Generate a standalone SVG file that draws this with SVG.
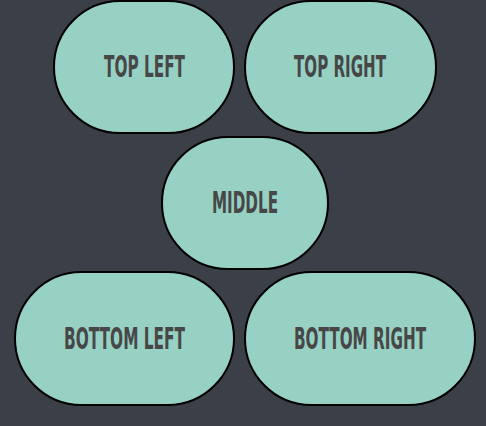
<svg xmlns="http://www.w3.org/2000/svg" width="486" height="426" viewBox="0 0 486 426">
<style>
.bg{fill:#3b3f47}
.n{fill:#96d1c4;stroke:#000;stroke-width:2}
.t{font-family:"DejaVu Sans Condensed","DejaVu Sans","Liberation Sans",sans-serif;font-weight:bold;font-size:31px;fill:#474747;text-anchor:middle}
</style>
<rect class="bg" x="0" y="0" width="486" height="426"/>
<g id="connectors"></g>
<g id="top-left">
<rect class="n" x="54" y="1" width="180" height="132" rx="66" ry="66"/>
<text class="t" transform="translate(144.5,77) scale(0.55,1)" x="0" y="0" textLength="147.3" lengthAdjust="spacingAndGlyphs">TOP LEFT</text>
</g>
<g id="top-right">
<rect class="n" x="245" y="1" width="191" height="132" rx="66" ry="66"/>
<text class="t" transform="translate(340,77) scale(0.55,1)" x="0" y="0" textLength="167.3" lengthAdjust="spacingAndGlyphs">TOP RIGHT</text>
</g>
<g id="middle">
<rect class="n" x="162" y="137" width="166" height="132" rx="66" ry="66"/>
<text class="t" transform="translate(245,213) scale(0.55,1)" x="0" y="0" textLength="120" lengthAdjust="spacingAndGlyphs">MIDDLE</text>
</g>
<g id="bottom-left">
<rect class="n" x="15" y="272" width="219" height="133" rx="66.5" ry="66.5"/>
<text class="t" transform="translate(124.5,349) scale(0.55,1)" x="0" y="0" textLength="220" lengthAdjust="spacingAndGlyphs">BOTTOM LEFT</text>
</g>
<g id="bottom-right">
<rect class="n" x="245" y="272" width="230" height="133" rx="66.5" ry="66.5"/>
<text class="t" transform="translate(360,349) scale(0.55,1)" x="0" y="0" textLength="240" lengthAdjust="spacingAndGlyphs">BOTTOM RIGHT</text>
</g>
</svg>
